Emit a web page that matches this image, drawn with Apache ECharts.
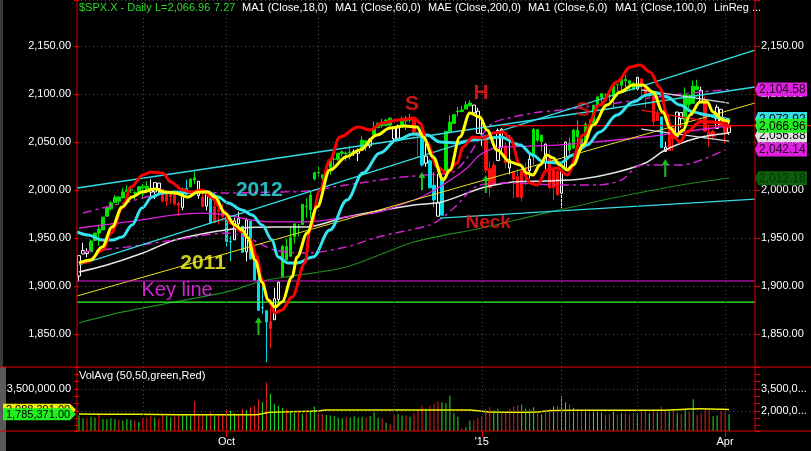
<!DOCTYPE html>
<html><head><meta charset="utf-8">
<script src="https://cdn.jsdelivr.net/npm/echarts@6/dist/echarts.min.js"></script>
<style>html,body{margin:0;padding:0;background:#000;}#c{width:811px;height:451px;}</style>
</head><body><div id="c"></div>
<script>
// ---- dates (trading days) ----
const monthDays = [
  ['Aug',[8,11,12,13,14,15,18,19,20,21,22,25,26,27,28,29]],
  ['Sep',[2,3,4,5,8,9,10,11,12,15,16,17,18,19,22,23,24,25,26,29,30]],
  ['Oct',[1,2,3,6,7,8,9,10,13,14,15,16,17,20,21,22,23,24,27,28,29,30,31]],
  ['Nov',[3,4,5,6,7,10,11,12,13,14,17,18,19,20,21,24,25,26,28]],
  ['Dec',[1,2,3,4,5,8,9,10,11,12,15,16,17,18,19,22,23,24,26,29,30,31]],
  ['Jan',[2,5,6,7,8,9,12,13,14,15,16,20,21,22,23,26,27,28,29,30]],
  ['Feb',[2,3,4,5,6,9,10,11,12,13,17,18,19,20,23,24,25,26,27]],
  ['Mar',[2,3,4,5,6,9,10,11,12,13,16,17,18,19,20,23,24,25,26,27,30,31]],
  ['Apr',[1,2]]
];
const emptySlots = ['e1','e2','e3','e4','e5','e6'];
const xTickIdx = [37,101,162];
const xTickText = ['Oct',"'15",'Apr'];
const monthStartIdx = [16,37,60,79,101,121,140,162];

// ---- OHLC ----
const open = [1910.4,1933.4,1935.7,1935.6,1947.4,1958.9,1958.4,1972.7,1980.5,1986.8,1992.6,1991.7,1998.6,2000.5,1997.4,1998.5,
2004.1,2003.6,2001.7,1998.0,2007.2,2000.7,1988.4,1992.9,1996.7,1986.0,1981.9,1999.3,2003.1,2012.7,2009.1,1992.8,1983.3,1997.3,1966.2,1978.9,1978.2,
1971.4,1945.8,1948.1,1970.0,1962.4,1935.6,1967.7,1925.6,1905.7,1877.1,1874.2,1855.9,1864.9,1885.9,1909.4,1941.3,1931.0,1951.6,1962.0,1964.1,1983.3,1979.5,2011.4,
2018.2,2015.8,2015.3,2023.3,2032.0,2032.0,2038.2,2037.8,2039.2,2039.7,2038.3,2041.5,2051.2,2045.9,2057.5,2065.1,2070.2,2067.0,2074.8,
2065.8,2053.8,2067.5,2073.6,2072.8,2074.8,2056.6,2058.9,2027.9,2030.4,2005.0,1986.7,1973.8,2018.9,2061.0,2069.3,2081.5,2083.3,2084.3,2087.6,2088.5,2082.1,
2058.9,2054.4,2022.2,2005.6,2030.6,2063.5,2046.1,2031.6,2018.4,2013.8,1992.3,2020.8,2020.2,2034.3,2062.9,2050.4,2047.9,2032.3,2002.5,2019.4,
1996.7,2022.7,2048.9,2043.5,2062.3,2053.5,2049.4,2068.6,2069.8,2088.9,2096.5,2099.2,2099.3,2097.7,2109.8,2109.1,2115.3,2113.9,2110.9,
2105.2,2115.8,2107.7,2098.5,2100.9,2072.3,2076.1,2044.7,2041.1,2064.6,2055.4,2080.6,2072.8,2098.7,2090.3,2107.9,2103.9,2093.1,2059.9,2055.8,2064.1,2084.1,
2067.6,2060.0];
const close = [1931.6,1936.9,1933.8,1946.7,1955.2,1955.1,1971.7,1981.6,1986.5,1992.4,1988.4,1997.9,2000.0,2000.1,1996.7,2003.4,
2002.3,2000.7,1997.7,2007.7,2001.5,1988.4,1995.7,1997.5,1985.5,1984.1,1999.0,2001.6,2011.4,2010.4,1994.3,1982.8,1998.3,1966.0,1982.9,1977.8,1972.3,
1946.2,1946.2,1967.9,1964.8,1935.1,1968.9,1928.2,1906.1,1874.7,1877.7,1862.5,1862.8,1886.8,1904.0,1941.3,1927.1,1950.8,1964.6,1961.6,1985.1,1982.3,1994.7,2018.1,
2017.8,2012.1,2023.6,2031.2,2031.9,2038.3,2039.7,2038.3,2039.3,2039.8,2041.3,2051.8,2048.7,2052.8,2063.5,2069.4,2067.0,2072.8,2067.6,
2053.4,2066.6,2074.3,2071.9,2075.4,2060.3,2059.8,2026.1,2035.3,2002.3,1989.6,1972.7,2012.9,2061.2,2070.7,2078.5,2082.2,2081.9,2088.8,2090.6,2080.4,2058.9,
2058.2,2020.6,2002.6,2025.9,2062.1,2044.8,2028.3,2023.0,2011.3,1992.7,2019.4,2022.6,2032.1,2063.2,2051.8,2057.1,2029.6,2002.2,2021.3,1995.0,
2020.9,2050.0,2041.5,2062.5,2055.5,2046.7,2068.6,2068.5,2088.5,2097.0,2100.3,2099.7,2097.5,2110.3,2109.7,2115.5,2113.9,2110.7,2104.5,
2117.4,2107.8,2098.5,2101.0,2071.3,2079.4,2044.2,2040.2,2066.0,2053.4,2081.2,2074.3,2099.5,2089.3,2108.1,2104.4,2091.5,2061.1,2056.2,2061.0,2086.2,2067.9,
2059.7,2067.0];
const low = [1904.8,1933.4,1929.8,1935.6,1947.4,1941.7,1958.4,1972.7,1978.6,1986.8,1984.8,1991.7,1998.6,1996.9,1990.1,1994.7,
1991.0,1998.1,1993.3,1990.5,1995.6,1986.9,1983.0,1985.3,1983.5,1973.0,1979.0,1993.0,2003.1,2006.4,1991.0,1982.8,1978.6,1965.0,1966.2,1964.0,1968.0,
1941.0,1926.0,1948.1,1958.0,1935.1,1925.7,1927.6,1906.1,1874.7,1871.0,1820.7,1835.0,1864.9,1882.3,1909.4,1926.7,1931.0,1944.1,1951.4,1964.1,1971.4,1970.5,2010.0,
2013.7,2001.0,2015.3,2015.9,2025.0,2030.2,2035.0,2030.2,2031.9,2035.5,2030.2,2041.5,2040.5,2043.5,2055.3,2064.3,2064.3,2066.9,2065.3,
2049.6,2053.8,2067.5,2062.3,2070.3,2054.3,2034.2,2024.3,2024.3,2002.3,1982.3,1972.6,1973.8,2018.9,2058.9,2069.3,2076.8,2081.1,2084.3,2087.6,2079.8,2058.9,
2046.0,2017.3,1992.4,2005.6,2030.6,2038.3,2022.6,2016.3,1991.5,1992.4,1988.1,2004.5,2012.0,2026.4,2050.5,2040.6,2019.9,2001.5,1989.2,1993.9,
1980.9,2022.7,2037.0,2043.5,2046.7,2041.0,2048.7,2059.0,2069.8,2086.7,2089.7,2092.2,2092.2,2085.4,2103.0,2103.8,2107.1,2103.8,2103.8,
2104.5,2098.3,2085.4,2095.0,2067.3,2072.3,2044.2,2039.7,2041.1,2041.0,2055.4,2065.1,2061.0,2085.6,2090.3,2104.4,2091.5,2061.1,2045.0,2052.5,2064.1,2067.0,
2048.4,2057.3];
const high = [1932.4,1944.9,1939.2,1948.4,1955.2,1964.0,1971.9,1982.6,1988.4,1994.8,1993.5,2001.9,2005.0,2002.1,1998.7,2003.4,
2006.1,2009.3,2011.2,2007.7,2007.2,2001.0,1996.7,1997.6,1996.7,1987.2,2002.3,2010.7,2012.3,2019.3,2009.1,1995.4,1999.8,1997.3,1986.4,1981.3,1985.2,
1971.4,1952.0,1971.2,1977.4,1962.4,1970.4,1967.7,1936.0,1912.1,1898.7,1874.2,1876.0,1898.2,1905.0,1942.5,1949.3,1961.9,1965.3,1964.6,1985.1,1991.4,1999.4,2018.2,
2024.5,2015.9,2023.8,2031.6,2034.3,2038.7,2041.3,2040.3,2046.2,2042.2,2043.1,2056.1,2052.1,2053.8,2071.5,2070.2,2074.2,2073.8,2075.8,
2065.8,2068.2,2076.3,2077.3,2079.5,2075.0,2060.6,2058.9,2055.5,2032.0,2018.7,2016.9,2016.8,2061.2,2077.9,2078.8,2086.7,2087.6,2092.7,2093.6,2088.5,2085.6,
2072.4,2054.4,2030.3,2029.6,2064.1,2064.4,2049.3,2056.9,2018.4,2021.4,2020.5,2028.9,2038.3,2064.6,2062.9,2057.6,2047.9,2042.5,2024.6,2023.3,
2021.7,2050.3,2054.7,2063.6,2072.4,2056.2,2070.9,2073.5,2088.5,2097.0,2101.3,2100.2,2102.1,2110.6,2110.1,2117.9,2119.6,2113.9,2112.7,
2117.5,2115.8,2107.7,2104.3,2100.9,2083.5,2076.1,2050.1,2066.4,2064.6,2081.4,2080.6,2106.9,2098.7,2113.9,2114.9,2107.6,2097.4,2067.2,2062.8,2088.9,2084.1,
2067.6,2072.2];
// candle colour codes: g green, r red, w white (hollow), c cyan
const candleCode = ('www'+'ggggggggggggggg'+'www'+'rrrrr'+'wcgg'+'wrwcrrr'+'ccwwcwcccccrww'+
  'gggggggggggggggggg'+'wwggwggggg'+'wwgggrrcwccwc'+'ggggggg'+'wwwrrrwwrwrrrrw'+'gggwrrrww'+
  'gggggggggggggggggwrrrrrcwrrwwggggwrrrwwrw').split('');

// ---- volume (millions) ----
const volume = [1.70,1.50,1.50,1.60,1.55,1.75,1.45,1.45,1.50,1.45,1.40,1.35,1.45,1.40,1.35,1.25,
1.50,1.55,1.65,1.55,1.50,1.75,1.65,1.55,1.60,1.70,1.75,1.70,1.65,2.70,1.75,1.70,1.80,1.95,1.65,1.70,1.80,
2.10,2.00,1.85,1.75,2.15,2.05,2.25,2.35,2.80,2.60,3.95,3.20,2.50,2.35,2.20,2.10,1.95,1.85,1.90,1.80,1.85,1.95,2.30,
1.85,1.80,1.75,1.70,1.65,1.55,1.50,1.60,1.55,1.65,1.55,1.60,1.55,1.65,1.90,1.55,1.50,1.20,1.10,
1.75,1.80,1.70,1.70,1.60,1.85,2.10,2.40,2.15,2.35,2.50,2.65,2.60,2.55,3.05,1.85,1.60,0.85,0.90,1.35,1.40,1.55,
1.65,2.10,2.25,2.05,2.15,2.00,1.95,2.15,2.30,2.40,2.45,2.15,2.10,2.25,1.95,1.80,1.95,2.15,2.30,2.35,
3.00,2.60,2.45,2.20,2.10,1.95,2.00,1.90,1.95,1.95,1.90,1.75,1.80,1.95,1.75,1.85,1.85,1.75,1.85,
1.85,2.05,1.95,1.85,2.10,1.90,2.30,2.05,2.00,2.05,1.85,1.80,2.10,1.95,2.80,1.75,1.85,2.15,2.05,1.65,1.70,2.00,
1.95,1.785371];
const volAvg = [[0,1.79],[10,1.78],[20,1.76],[30,1.74],[40,1.74],[45,1.76],[48,1.92],[55,1.96],[60,2.0],[62,2.06],[70,2.06],[80,2.06],[90,2.07],[98,2.07],[100,2.02],[103,1.93],[110,1.92],[115,1.93],[118,2.02],[125,2.05],[135,2.05],[145,2.05],[152,2.12],[156,2.15],[160,2.12],[163,2.1]];

// ---- indicator lines: [bar index, price] ----
const maRed = [[0,1924],[2,1925],[6,1937.5],[8,1955],[11,1982],[13,2003],[16,2015.6],[18,2018.8],[21,2017.7],[23,2008.3],[26,2000],[28,1997.9],[31,2000],[33,1992.7],[36,1979.2],[38,1965.6],[41,1956.3],[43,1947.9],[44.6,1930.2],[45.9,1906.3],[47.4,1885.4],[49.2,1871.9],[50.9,1875],[53.4,1888.5],[56.7,1924],[57.9,1958.3],[60.4,2000],[62.9,2031.3],[65.4,2055.2],[70,2065.6],[73,2062.5],[76,2069.8],[80,2072.9],[84,2075],[85.5,2069.8],[87.3,2049],[89.8,2024],[92.3,2017.7],[94.8,2028.1],[96.3,2044.8],[98.8,2055.2],[101.3,2054.2],[103.8,2059.4],[106.3,2060.4],[108.1,2054.2],[110.6,2026],[113.1,2007.3],[114.9,2005.2],[117.3,2020.8],[119.9,2022.9],[122.4,2015.6],[126.4,2057.3],[130.6,2088.5],[134.9,2112.5],[138.2,2128.1],[140.7,2130.2],[143.2,2122.9],[145.7,2106.3],[147.4,2078.1],[148.8,2057.3],[150.7,2050],[152.4,2060.4],[155.7,2070.8],[159,2070.8],[161.5,2069.8],[163.2,2064.6]];
const maYellow = [[0,1924],[3,1927.1],[5.8,1940.6],[8.3,1961.5],[10.8,1982.3],[13.3,1992.7],[15.8,1997.9],[19.1,2001],[21.6,1997.9],[24.1,1996.9],[27.3,1992.7],[29.8,1997.9],[32.3,1997.9],[34.1,1992.7],[36.6,1976],[39.1,1963.5],[40.9,1958.3],[42.4,1950],[44.1,1927.1],[45.9,1904.2],[47.4,1885.4],[49.2,1878.1],[50.9,1883.3],[53.4,1909.4],[54.7,1930.2],[57.2,1955.2],[59.7,1982.3],[62.9,2020.8],[67.2,2035],[70.4,2041.7],[74.7,2057.3],[78,2064.6],[81.7,2066.7],[84.8,2065.6],[86.3,2055.2],[88.8,2034.4],[91.3,2010.4],[93,2020.8],[95.5,2055.2],[98,2080.2],[100.5,2076],[102.3,2062.5],[104.8,2041.7],[108.1,2029.2],[110.6,2026],[112.3,2017.7],[113.8,2015.6],[115.6,2026],[117.3,2036.5],[118.9,2033.3],[120.6,2026],[122.4,2020.8],[123.9,2026],[126.4,2046.9],[128.9,2067.7],[132.4,2088.5],[135.7,2102.1],[138.9,2109.4],[141.4,2109.4],[143.9,2102.1],[146.4,2081.3],[148.2,2064.6],[149.9,2057.3],[151.5,2062.5],[153.2,2078.1],[155.7,2091.7],[157.5,2091.7],[159,2081.3],[161.5,2072.9],[163.2,2070.8]];
const maCyan = [[-0.5,1956.3],[2.3,1953.1],[5.8,1947.9],[8.3,1947.9],[10.8,1951],[13.3,1963.5],[15.8,1981.3],[18.3,1992.7],[20.8,1996.9],[24.1,1997.9],[26.6,1996.9],[29.1,1997.9],[32.3,1997.9],[34.9,1992.7],[37.4,1986.5],[40.9,1979.2],[43.4,1974],[45.9,1963.5],[48.4,1947.9],[49.9,1930.2],[52.4,1924],[54.7,1924],[58.7,1930.2],[62.9,1958.3],[67.2,1989.6],[71.2,2017.7],[75.5,2038.5],[79.7,2052.1],[83.8,2058.3],[87.3,2057.3],[90.5,2050],[94.8,2049],[98.8,2052.1],[103.1,2054.2],[105.6,2055.2],[110.6,2046.9],[113.8,2036.5],[116.4,2029.2],[120.6,2028.1],[123.9,2036.5],[127.4,2046.9],[130.6,2060.4],[134.9,2078.1],[138.9,2091.7],[142.4,2099],[144.9,2101],[147.4,2096.9],[150.7,2088.5],[153.9,2081.3],[157.5,2078.1],[160.7,2075],[163.2,2072.9]];
const maMagenta = [[0,1960.4],[12,1966.7],[24,1974],[31,1976],[37,1974],[43,1968.8],[49,1966.7],[57,1966.7],[67,1971.9],[75,1977],[80.5,1984.4],[86,1993],[92,2007.3],[97.3,2022.9],[100.5,2036.5],[104.8,2043.8],[113,2045.8],[120.6,2046.9],[142,2055.2],[155,2062.5],[163,2066.7]];
const maWhite = [[0,1914.6],[7,1921.9],[16,1934.4],[24,1947.9],[32,1955.2],[41,1960.4],[49,1961.5],[57,1961.5],[67,1971.9],[84,1984.4],[91,1987.5],[101,2002.1],[109,2008.3],[117,2009.4],[126,2011.5],[134,2017.7],[142,2028.1],[147,2041.7],[155,2054.2],[163,2059.4]];
const maGreen = [[0,1861.5],[11,1873],[24,1883.3],[37,1893.8],[45,1904.2],[50,1908.3],[67,1919.8],[84,1945.8],[101,1960.4],[117,1976],[134,1991.7],[151,2005.2],[163,2012.5]];
const envUpper = [[1,1976],[12,1987.5],[24,1997.9],[37,1996.9],[50,1997.9],[57,1998.9],[67,2005.2],[80,2013],[88,2016],[93.8,2018.8],[97.3,2033.3],[100.5,2054],[103.8,2069.8],[108.8,2076],[113.8,2080.2],[120.6,2083.3],[135,2090.6],[143,2095.8],[156,2102.1],[163,2104.6]];
const envLower = [[1,1935.4],[12,1940.6],[24,1947.9],[37,1955.2],[42,1951],[49,1937.5],[57,1934.4],[67,1940.6],[75,1951],[88,1963.5],[91,1970.8],[94,1981.3],[100.5,2005.2],[109,2007.3],[121,2005.2],[130,2005.2],[136,2010.4],[141,2026],[151,2026],[162,2042.1]];

// ---- drawn trend lines (end points) ----
const trendCyanA = [[-0.5,2002.1],[169.5,2107.3]];
const trendCyanB = [[0,1921.9],[169.5,2145.8]];
const trendNeck = [[90.5,1970.8],[169.5,1990.6]];
const trend2011 = [[-0.5,1889.6],[169.5,2090.6]];
const keyLine = [[-0.5,1905.2],[169.5,1905.2]];
const greenLine = [[-0.5,1883.3],[169.5,1883.3]];
const whiteUpper = [[141,2104.2],[163,2090.6]];
const whiteLower = [[141,2063.5],[163,2051]];
const redTrend = [[141,2083.3],[163,2067.7]];
const lastPrice = 2066.96;
const lastPriceFrom = 106;

// ---- annotations ----
const notes = [
  {t:'S', x:83.5, y:2089.6, c:'#ff1a1a', s:21, w:'bold'},
  {t:'H', x:100.8, y:2101, c:'#ff1a1a', s:21, w:'bold'},
  {t:'S', x:126.4, y:2083.3, c:'#e01818', s:21, w:'bold'},
  {t:'2012', x:45.2, y:2000, c:'#33e3ef', s:21, w:'bold'},
  {t:'2011', x:31.1, y:1924, c:'#ffff22', s:21, w:'bold'},
  {t:'Key line', x:24.6, y:1895.8, c:'#ff30ff', s:20, w:'normal'},
  {t:'Neck', x:102.6, y:1965.6, c:'#ff1a1a', s:19, w:'bold'}
];
const arrows = [[45,1858.3],[86,2009.4],[102,2006.3],[147,2022.9]];

// ---- right-side value tags ----
const tagVals = [2073.92, 2056.88, 2012.18, 2104.58, 2042.14, 2066.96];
const tagFill = ['#33dde6','#e0e0e0','#0b5e0b','#e020e0','#e020e0','#22ee22'];
const tagInk  = ['#000','#000','#0a300a','#200020','#200020','#000'];
const volTagVals = [2.088391, 1.785371];
const volTagFill = ['#f0f000','#22ee22'];

// ---------- build ----------
const dates = [];
monthDays.forEach(([m,ds]) => ds.forEach(d => dates.push(m+' '+d)));
const cats = dates.concat(emptySlots);
const col = {g:'#00e600', r:'#ff1010', w:'#ffffff', c:'#00dde8'};
const candleData = dates.map((d,i) => {
  const cc = col[candleCode[i]] || '#fff';
  const fill = candleCode[i]==='w' ? '#000' : cc;
  return {value:[open[i],close[i],low[i],high[i]], itemStyle:{color:fill,color0:fill,borderColor:cc,borderColor0:cc}};
});
const volData = volume.map((v,i)=>({value:v, itemStyle:{color: (i===0 || close[i]>=close[i-1]) ? '#1ee61e' : '#ee1e1e'}}));
const fmt2 = v => v.toLocaleString('en-US',{minimumFractionDigits:2,maximumFractionDigits:2});
const FONT = '"Liberation Sans", Arial, sans-serif';

function lineS(data, color, width, extra) {
  return Object.assign({type:'line', xAxisIndex:1, yAxisIndex:0, data:data, showSymbol:false, symbol:'none',
    lineStyle:{color:color,width:width}, silent:true, z:3}, extra||{});
}
const priceLabel = v => (Math.abs(v/50-Math.round(v/50))<1e-6 ? fmt2(v) : '');
const gridLineMarks = monthStartIdx.map(i=>({xAxis:i}));

const chart = echarts.init(document.getElementById('c'), null, {renderer:'canvas'});
const option = {
  animation:false,
  backgroundColor:'#000',
  textStyle:{fontFamily:FONT},
  grid:[{left:77,right:56,top:0,height:367},{left:77,right:56,top:367,height:64}],
  xAxis:[
    {type:'category',gridIndex:0,data:cats,boundaryGap:true,axisLine:{show:false},axisTick:{show:false},axisLabel:{show:false},splitLine:{show:false}},
    {type:'value',gridIndex:0,min:-0.5,max:169.5,show:false},
    {type:'category',gridIndex:1,data:cats,boundaryGap:true,axisLine:{show:false},
      axisTick:{show:true,alignWithLabel:true,length:6,interval:(i)=>xTickIdx.includes(i),lineStyle:{color:'#e00000'}},
      axisLabel:{interval:(i)=>xTickIdx.includes(i),formatter:(v,i)=>{const k=xTickIdx.indexOf(i);return k>=0?xTickText[k]:'';},color:'#fff',fontSize:11,margin:5,fontFamily:FONT},
      splitLine:{show:false}},
    {type:'value',gridIndex:1,min:-0.5,max:169.5,show:false}
  ],
  yAxis:[
    {type:'value',gridIndex:0,position:'left',min:1815.625,max:2197.917,splitNumber:8,
      axisLine:{show:false},axisTick:{show:true,length:5,lineStyle:{color:'#e00000'}},
      axisLabel:{color:'#fff',fontSize:11,margin:6,formatter:priceLabel,fontFamily:FONT},
      splitLine:{show:true,lineStyle:{color:'#4a4a4a',type:[1,3],width:1}}},
    {type:'value',gridIndex:0,position:'right',min:1815.625,max:2197.917,splitNumber:8,
      axisLine:{show:false},axisTick:{show:true,length:5,lineStyle:{color:'#e00000'}},
      axisLabel:{color:'#fff',fontSize:11,margin:6,formatter:priceLabel,fontFamily:FONT},
      splitLine:{show:false}},
    {type:'value',gridIndex:1,position:'left',min:0.636364,max:5,splitNumber:9,
      axisLine:{show:false},axisTick:{show:true,length:5,lineStyle:{color:'#e00000'}},
      axisLabel:{color:'#fff',fontSize:11,margin:6,fontFamily:FONT,formatter:v=>Math.abs(v-3.5)<1e-6?fmt2(v*1e6):''},
      splitLine:{show:false}},
    {type:'value',gridIndex:1,position:'right',min:0.636364,max:5,splitNumber:9,
      axisLine:{show:false},axisTick:{show:true,length:5,lineStyle:{color:'#e00000'}},
      axisLabel:{color:'#fff',fontSize:11,margin:6,fontFamily:FONT,formatter:v=>(Math.abs(v-3.5)<1e-6||Math.abs(v-2)<1e-6)?fmt2(v*1e6).slice(0,7)+'...':''},
      splitLine:{show:false}}
  ],
  series:[
    {type:'line',xAxisIndex:1,yAxisIndex:0,data:[],silent:true,
      markLine:{silent:true,symbol:'none',label:{show:false},lineStyle:{color:'#4a4a4a',type:[1,3],width:1},data:gridLineMarks}},
    {type:'line',xAxisIndex:3,yAxisIndex:2,data:[],silent:true,
      markLine:{silent:true,symbol:'none',label:{show:false},lineStyle:{color:'#4a4a4a',type:[1,3],width:1},data:gridLineMarks.concat([{yAxis:2},{yAxis:3.5}])}},
    {type:'candlestick',xAxisIndex:0,yAxisIndex:0,data:candleData,barWidth:3,z:2,silent:true},
    lineS(maGreen,'#1f8a1f',1.2,{smooth:0.3}),
    lineS(maWhite,'#e6e6e6',1.5,{smooth:0.3}),
    lineS(maMagenta,'#e020e0',1.3,{smooth:0.3}),
    lineS(envUpper,'#d020d0',1.5,{smooth:0.3,lineStyle:{color:'#d020d0',width:1.5,type:[9,4,3,4]}}),
    lineS(envLower,'#d020d0',1.5,{smooth:0.3,lineStyle:{color:'#d020d0',width:1.5,type:[9,4,3,4]}}),
    lineS(trendCyanA,'#33dde6',1.3),
    lineS(trendCyanB,'#33dde6',1.3),
    lineS(trendNeck,'#33dde6',1.3),
    lineS(trend2011,'#e8e020',1),
    lineS(keyLine,'#e020e0',1.2),
    lineS(greenLine,'#33ff33',1.3),
    lineS(whiteUpper,'#d8d8d8',1.3),
    lineS(whiteLower,'#d8d8d8',1.3),
    lineS(redTrend,'#ee1010',1.3),
    lineS([[lastPriceFrom,lastPrice],[169.5,lastPrice]],'#ff0000',1.3),
    lineS(maCyan,'#33e3ef',3,{smooth:0.35,smoothMonotone:'x',z:4}),
    lineS(maRed,'#ff0000',3,{smooth:0.35,smoothMonotone:'x',z:4}),
    lineS(maYellow,'#ffff00',3,{smooth:0.35,smoothMonotone:'x',z:5}),
    {type:'scatter',xAxisIndex:1,yAxisIndex:0,z:6,silent:true,symbol:'path://M3.5,0 L7,6 L4.5,6 L4.5,18 L2.5,18 L2.5,6 L0,6 Z',
      symbolSize:[7,18],itemStyle:{color:'#22ee22'},data:arrows},
    {type:'scatter',xAxisIndex:1,yAxisIndex:0,z:7,silent:true,symbolSize:1,itemStyle:{color:'rgba(0,0,0,0)'},
      data:notes.map(n=>({value:[n.x,n.y],name:n.t,label:{show:true,position:'inside',formatter:n.t,color:n.c,fontSize:n.s,fontWeight:n.w,fontFamily:FONT}}))},
    {type:'bar',xAxisIndex:2,yAxisIndex:2,data:volData,barWidth:1,silent:true,z:2},
    {type:'line',xAxisIndex:3,yAxisIndex:2,data:volAvg,showSymbol:false,smooth:0.3,lineStyle:{color:'#f0f000',width:1.5},silent:true,z:3}
  ]
};
chart.setOption(option);

// ---------- decorations (frame, header, value tags) ----------
const g = [];
const R = '#e00000';
g.push({type:'rect',shape:{x:0,y:0,width:3,height:451},style:{fill:'#3a3a3a'},z:90});
g.push({type:'rect',shape:{x:0,y:367,width:6,height:84},style:{fill:'#5a5a5a'},z:90});
[[77,0,77,431],[755,0,755,431],[0,367,811,367],[0,431,811,431]].forEach(s=>g.push({type:'line',shape:{x1:s[0],y1:s[1],x2:s[2],y2:s[3]},style:{stroke:R,lineWidth:1},z:95}));
const head = [['$SPX.X - Daily',79,'#2ed82e'],['L=2,066.96',155,'#2ed82e'],['7.27',214,'#2ed82e'],
  ['MA1 (Close,18,0)',242,'#fff'],['MA1 (Close,60,0)',335,'#fff'],['MAE (Close,200,0)',428,'#fff'],
  ['MA1 (Close,6,0)',528,'#fff'],['MA1 (Close,100,0)',615,'#fff'],['LinReg ...',714,'#fff']];
head.forEach(h=>g.push({type:'text',x:h[1],y:8,style:{text:h[0],fill:h[2],font:'11px '+FONT,verticalAlign:'middle',align:'left'},z:96}));
g.push({type:'text',x:79,y:376,style:{text:'VolAvg (50,50,green,Red)',fill:'#fff',font:'11px '+FONT,verticalAlign:'middle'},z:96});
const yLast = chart.convertToPixel({yAxisIndex:0}, lastPrice);
g.push({type:'line',shape:{x1:755,y1:yLast,x2:811,y2:yLast},style:{stroke:'#ff0000',lineWidth:1.3},z:96});
tagVals.forEach((v,k)=>{
  const y = chart.convertToPixel({yAxisIndex:0}, v);
  g.push({type:'polygon',shape:{points:[[755,y],[758,y-7],[807,y-7],[807,y+7],[758,y+7]]},style:{fill:tagFill[k]},z:97+k*0.01});
  g.push({type:'text',x:759,y:y+0.5,style:{text:fmt2(v),fill:tagInk[k],font:'12px '+FONT,verticalAlign:'middle'},z:97+k*0.01+0.005});
});
volTagVals.forEach((v,k)=>{
  const y = chart.convertToPixel({yAxisIndex:2}, v);
  g.push({type:'polygon',shape:{points:[[3,y-6],[70,y-6],[76,y],[70,y+6],[3,y+6]]},style:{fill:volTagFill[k]},z:97+k*0.01});
  g.push({type:'text',x:38,y:y+0.5,style:{text:fmt2(v*1e6),fill:'#000',font:'11px '+FONT,verticalAlign:'middle',align:'center'},z:97+k*0.01+0.005});
});
chart.setOption({graphic:g});
</script></body></html>
